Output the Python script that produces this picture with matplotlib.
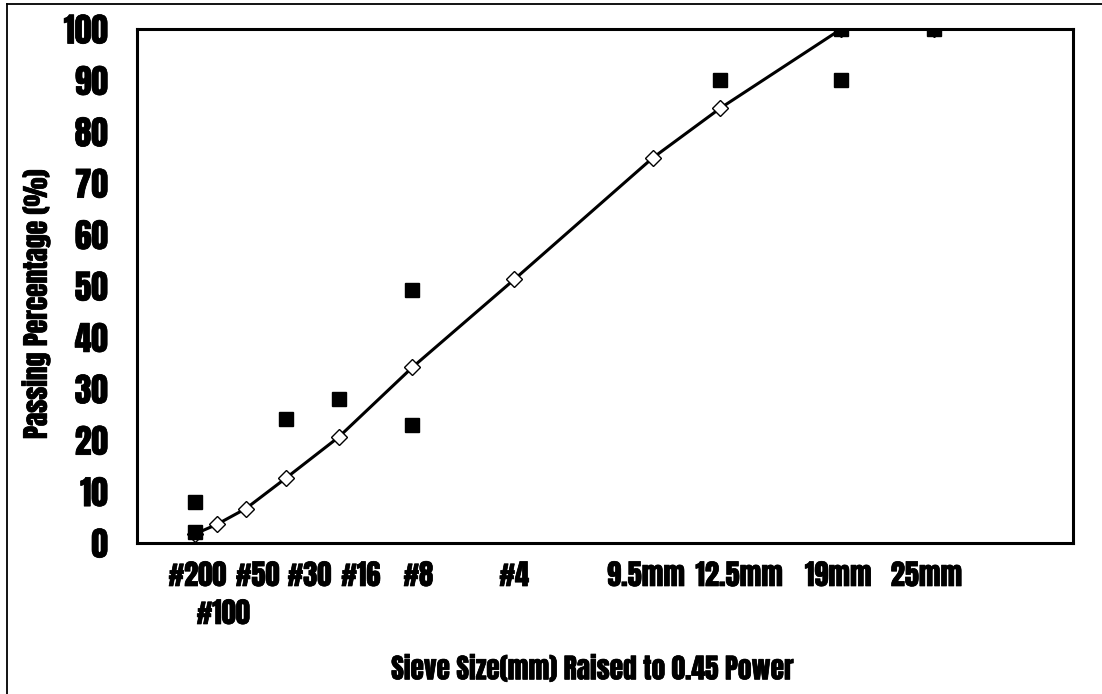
import matplotlib
matplotlib.use("Agg")
import matplotlib.pyplot as plt
import matplotlib.transforms as mtransforms
import matplotlib.patheffects as pe
from matplotlib.lines import Line2D
import numpy as np
from matplotlib import font_manager

# ---- data ----
sieve_mm = [0.075, 0.15, 0.3, 0.6, 1.18, 2.36, 4.75, 9.5, 12.5, 19, 25]
gradation = [1.8, 3.6, 6.7, 12.6, 20.6, 34.2, 51.3, 74.9, 84.6, 100, 100]

ctrl_mm = [0.075, 0.075, 0.6, 1.18, 2.36, 2.36, 12.5, 19, 19, 25]
ctrl_pct = [8.0, 2.2, 24.2, 28.1, 49.3, 23.0, 90, 100, 90, 100]

tick_text = ["#200", "#100", "#50", "#30", "#16", "#8", "#4",
             "9.5mm", "12.5mm", "19mm", "25mm"]
tick_text_x = [0.3225, 0.4606, 0.6445, 0.921, 1.196, 1.503, 2.015,
               2.719, 3.217, 3.746, 4.217]
tick_text_row = [0, 1, 0, 0, 0, 0, 0, 0, 0, 0, 0]

y_ticks = list(range(0, 101, 10))
power = 0.45
x_label = "Sieve Size(mm) Raised to 0.45 Power"
y_label = "Passing Percentage (%)"

# ---- font ----
avail = {f.name for f in font_manager.fontManager.ttflist}
fam = "DejaVu Sans"
for cand in ["Anton", "Oswald", "Fjalla One", "IBM Plex Sans Condensed"]:
    if cand in avail:
        fam = cand
        break
plt.rcParams["font.family"] = [fam, "DejaVu Sans"]
plt.rcParams["font.weight"] = "bold"

fig = plt.figure(figsize=(11.02, 6.94), dpi=100)
W, H = 1102, 694

# calibrate font size so the x-label is ~406 px wide
renderer = fig.canvas.get_renderer()
probe = fig.text(0, 0, x_label, fontsize=20, fontweight="bold")
w20 = probe.get_window_extent(renderer).width
probe.remove()
FS = 20 * 402 / w20
FS_Y = FS * 1.22
FS_X = FS * 1.04
heavy = [pe.withStroke(linewidth=0.5, foreground="black")]

ax = fig.add_axes([137 / W, 1 - 543 / H, (1073 - 137) / W, (543 - 29) / H])

x_line = np.array(sieve_mm) ** power
x_ctrl = np.array(ctrl_mm) ** power

ax.plot(x_line, gradation, color="black", lw=2.2, marker="D", ms=8,
        mfc="white", mec="black", mew=1.0, zorder=3)
ax.plot(x_ctrl, ctrl_pct, ls="none", marker="s", ms=10.5, color="black", zorder=4)

ax.set_xlim(0, 5)
ax.set_ylim(0, 100)
ax.set_yticks(y_ticks)
ax.set_yticklabels([str(v) for v in y_ticks], fontsize=FS_Y, fontweight="bold")
for lab in ax.get_yticklabels():
    lab.set_path_effects(heavy)
ax.set_xticks([])
ax.tick_params(axis="y", length=0, pad=21)
for s in ax.spines.values():
    s.set_linewidth(2.2)
    s.set_color("black")

blend = mtransforms.blended_transform_factory(ax.transData, fig.transFigure)
for t, xv, r in zip(tick_text, tick_text_x, tick_text_row):
    ypix = 575 if r == 0 else 613
    ax.text(xv, 1 - ypix / H, t, transform=blend,
            ha="center", va="center", fontsize=FS_X, fontweight="bold",
            path_effects=heavy)

fig.text(591 / W, 1 - 669 / H, x_label,
         ha="center", va="center", fontsize=FS, fontweight="bold",
         path_effects=heavy)
fig.text(36 / W, 1 - 305 / H, y_label, rotation=90,
         ha="center", va="center", fontsize=FS, fontweight="bold",
         path_effects=heavy)

# figure border (left and top)
fig.add_artist(Line2D([6.5 / W, 6.5 / W], [0, 1 - 3.5 / H],
                      transform=fig.transFigure, color="black", lw=1.3))
fig.add_artist(Line2D([6.5 / W, 1], [1 - 3.5 / H, 1 - 3.5 / H],
                      transform=fig.transFigure, color="black", lw=1.3))

fig.savefig("out.png", dpi=100)
